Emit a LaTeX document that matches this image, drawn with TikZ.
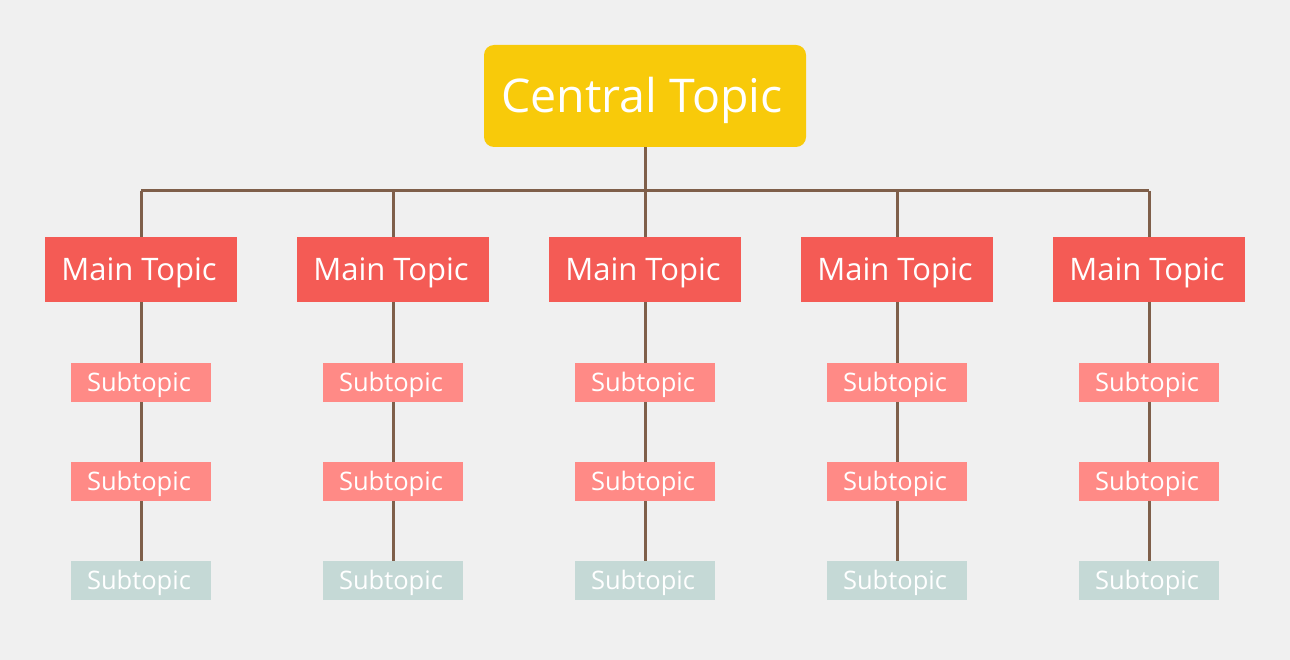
\documentclass[tikz,border=0pt]{standalone}
\usepackage{fontspec}
\setmainfont{Open Sans}
\definecolor{bg}{HTML}{F0F0F0}
\definecolor{cen}{HTML}{F8CA0A}
\definecolor{mainc}{HTML}{F45B55}
\definecolor{subc}{HTML}{FF8A86}
\definecolor{subg}{HTML}{C5D9D6}
\definecolor{ln}{HTML}{7F5F4A}
\begin{document}
\begin{tikzpicture}[x=1pt,y=-1pt,
  central/.style={fill=cen,rounded corners=10pt,minimum width=322pt,minimum height=102pt,text=white,font=\fontsize{46.5}{52}\selectfont},
  maintopic/.style={fill=mainc,minimum width=192pt,minimum height=65pt,text=white,font=\fontsize{31}{36}\selectfont},
  subtopic/.style={fill=subc,minimum width=140pt,minimum height=39pt,text=white,font=\fontsize{25.5}{30}\selectfont},
  subtopicg/.style={subtopic,fill=subg},
  lbl/.style={text=white,anchor=center},
  conn/.style={draw=ln,line width=3pt}]
\fill[bg] (0,0) rectangle (1290,660);
\useasboundingbox (0,0) rectangle (1290,660);
\node[central] (c) at (645,96) {};
\node[lbl,font=\fontsize{46.5}{52}\selectfont] (ct) at (642,100) {Central Topic};
\coordinate (bar) at (645,191);
\draw[conn] (c.south) -- (bar);
\foreach \i/\x in {1/141,2/393,3/645,4/897,5/1149}{
  \node[subtopic] (s1\i) at (\x,382.5) {};
  \node[subtopic] (s2\i) at (\x,481.5) {};
  \node[subtopicg] (s3\i) at (\x,580.5) {};
  \node[lbl,font=\fontsize{25.5}{30}\selectfont] (t1\i) at (\x-2,385) {Subtopic};
  \node[lbl,font=\fontsize{25.5}{30}\selectfont] (t2\i) at (\x-2,484) {Subtopic};
  \node[lbl,font=\fontsize{25.5}{30}\selectfont] (t3\i) at (\x-2,583) {Subtopic};
  \coordinate (b\i) at (\x,191);
  \draw[conn] (b\i) -- (\x,237);
  \node[maintopic] (m\i) at (\x,269.5) {};
  \node[lbl,font=\fontsize{31}{36}\selectfont] (mt\i) at (\x-2,273) {Main Topic};
  \draw[conn] (m\i.south) -- (s1\i.north);
  \draw[conn] (s1\i.south) -- (s2\i.north);
  \draw[conn] (s2\i.south) -- (s3\i.north);
}
\draw[conn] (b1) -- (b5);
\end{tikzpicture}
\end{document}
